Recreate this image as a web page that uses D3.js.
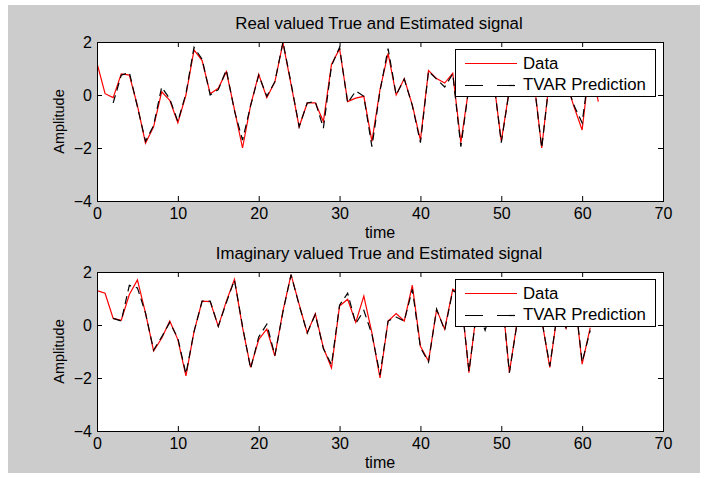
<!DOCTYPE html>
<html><head><meta charset="utf-8">
<script src="https://cdn.jsdelivr.net/npm/d3@7"></script>
<style>
html,body{margin:0;padding:0;background:#fff;}
text{font-family:"Liberation Sans",Arial,Helvetica,sans-serif;fill:#000;}
</style></head>
<body>
<svg id="chart" width="708" height="478"></svg>
<script>
// ---------------- data ----------------
const xTicks = [0, 10, 20, 30, 40, 50, 60, 70];
const yTicks = [-4, -2, 0, 2];
const titles = ["Real valued True and Estimated signal", "Imaginary valued True and Estimated signal"];
const xLabel = "time";
const yLabel = "Amplitude";
const legendLabels = ["Data", "TVAR Prediction"];

// real part: true data (t = 0..62)
const realData = [1.2, 0.05, -0.1, 0.8, 0.75, -0.4, -1.82, -1.2, 0.12, -0.2,
  -1.05, 0.0, 1.7, 1.3, 0.05, 0.25, 0.88, -0.55, -2.0, -0.38,
  0.78, -0.1, 0.5, 1.97, 0.4, -1.2, -0.3, -0.3, -1.0, 1.15,
  1.75, -0.25, -0.12, -0.05, -1.75, 0.2, 1.57, 0.0, 0.62, -0.38,
  -1.7, 0.92, 0.62, 0.45, 0.82, -1.8, 0.3, 0.9, 0.5, 0.7,
  -1.75, 0.2, 0.9, 0.4, 0.65, -2.0, 0.7, 0.3, 0.5, -0.45,
  -1.32, 1.3, -0.25];
// real part: TVAR prediction (t = 2..61)
const realPredStart = 2;
const realPred = [-0.3, 0.75, 0.85, -0.45, -1.75, -1.15, 0.3, -0.15,
  -1.0, 0.05, 1.8, 1.35, 0.0, 0.2, 0.95, -0.6, -1.7, -0.4,
  0.75, -0.05, 0.5, 2.0, 0.45, -1.2, -0.3, -0.25, -1.25, 1.1,
  1.8, -0.3, 0.15, -0.05, -1.95, 0.15, 1.75, 0.0, 0.6, -0.4,
  -1.8, 0.9, 0.6, 0.3, 0.8, -1.95, 0.3, 0.85, 0.5, 0.7,
  -1.8, 0.2, 0.85, 0.4, 0.6, -2.0, 0.7, 0.3, 0.5, -0.4,
  -1.05, 1.25];
// imaginary part: true data (t = 0..61)
const imagData = [1.3, 1.2, 0.25, 0.18, 1.15, 1.7, 0.45, -0.98, -0.5, 0.15,
  -0.55, -1.92, -0.25, 0.9, 0.88, -0.05, 0.9, 1.72, -0.1, -1.6,
  -0.55, -0.15, -1.17, 0.53, 1.9, 0.78, -0.3, 0.43, -0.86, -1.62,
  0.72, 0.97, 0.1, 1.09, -0.3, -2.0, 0.15, 0.43, 0.15, 1.5,
  -0.8, -1.36, 0.58, -0.16, 1.35, 1.18, -1.8, 0.68, 0.1, 0.8,
  1.4, -1.8, 0.2, 1.0, 0.6, 0.2, -1.6, 0.58, -0.12, 1.32,
  -1.48, -0.1];
// imaginary part: TVAR prediction (t = 2..61)
const imagPredStart = 2;
const imagPred = [0.25, 0.15, 1.5, 1.4, 0.45, -0.95, -0.45, 0.1,
  -0.5, -1.85, -0.25, 0.9, 0.9, -0.05, 0.85, 1.7, -0.05, -1.65,
  -0.45, 0.03, -1.15, 0.5, 1.9, 0.75, -0.3, 0.4, -0.9, -1.5,
  0.75, 1.2, 0.05, 0.55, -0.35, -1.88, 0.15, 0.3, 0.15, 1.35,
  -0.85, -1.4, 0.6, -0.2, 1.3, 1.1, -1.75, 0.6, -0.2, 0.8,
  1.35, -1.8, 0.15, 0.9, 0.6, 0.2, -1.55, 0.6, -0.1, 1.3,
  -1.4, -0.2];

// ---------------- drawing ----------------
const svg = d3.select("#chart");
svg.append("rect").attr("x", 8).attr("y", 5).attr("width", 692).attr("height", 468).attr("fill", "#cccccc");

const x = d3.scaleLinear().domain([0, 70]).range([97, 663]);

function panel(top, bottom, title, dataArr, predArr, predStart) {
  const y = d3.scaleLinear().domain([-4, 2]).range([bottom, top]);
  const g = svg.append("g");
  g.append("rect").attr("x", x(0)).attr("y", y(2)).attr("width", x(70) - x(0)).attr("height", y(-4) - y(2))
    .attr("fill", "#fff");

  const clipId = "clip" + top;
  svg.append("clipPath").attr("id", clipId).append("rect")
    .attr("x", x(0)).attr("y", y(2) - 1).attr("width", x(70) - x(0)).attr("height", y(-4) - y(2) + 2);

  const line = d3.line().x(d => x(d[0])).y(d => y(d[1]));
  const dpts = dataArr.map((v, i) => [i, v]);
  const ppts = predArr.map((v, i) => [i + predStart, v]);
  const lg = g.append("g").attr("clip-path", `url(#${clipId})`);
  lg.append("path").attr("d", line(dpts)).attr("fill", "none").attr("stroke", "#ff0000").attr("stroke-width", 1.2);
  lg.append("path").attr("d", line(ppts)).attr("fill", "none").attr("stroke", "#000").attr("stroke-width", 1.2)
    .attr("stroke-dasharray", "8,5");

  // axes
  const ax = g.append("g").attr("transform", `translate(0,${y(-4)})`)
    .call(d3.axisBottom(x).tickValues(xTicks).tickSize(-5).tickPadding(7).tickFormat(d3.format("d")));
  const axTop = g.append("g").attr("transform", `translate(0,${y(2)})`)
    .call(d3.axisTop(x).tickValues(xTicks).tickSize(-5).tickFormat(""));
  const ay = g.append("g").attr("transform", `translate(${x(0)},0)`)
    .call(d3.axisLeft(y).tickValues(yTicks).tickSize(-5).tickPadding(5).tickFormat(d3.format("d")));
  const ayR = g.append("g").attr("transform", `translate(${x(70)},0)`)
    .call(d3.axisRight(y).tickValues(yTicks).tickSize(-5).tickFormat(""));
  [ax, axTop, ay, ayR].forEach(a => {
    a.select(".domain").remove();
    a.selectAll("line").attr("stroke", "#000");
    a.selectAll("text").attr("font-size", 16).attr("font-family", '"Liberation Sans",Arial,sans-serif').attr("fill", "#000");
  });
  g.append("rect").attr("x", x(0) + 0.5).attr("y", y(2) + 0.5).attr("width", x(70) - x(0)).attr("height", y(-4) - y(2))
    .attr("fill", "none").attr("stroke", "#000").attr("stroke-width", 1);

  // titles
  g.append("text").attr("x", 379).attr("y", top - 13).attr("text-anchor", "middle").attr("font-size", 16.8).text(title);
  g.append("text").attr("x", 380).attr("y", bottom + 37).attr("text-anchor", "middle").attr("font-size", 16).text(xLabel);
  g.append("text").attr("transform", `translate(64,${(top + bottom) / 2}) rotate(-90)`).attr("text-anchor", "middle")
    .attr("font-size", 14.5).text(yLabel);

  // legend
  const lx = 455, ly = top + 7;
  g.append("rect").attr("x", lx + 0.5).attr("y", ly + 0.5).attr("width", 200).attr("height", 47)
    .attr("fill", "#fff").attr("stroke", "#000").attr("stroke-width", 1);
  g.append("line").attr("x1", lx + 10).attr("x2", lx + 62).attr("y1", ly + 14.5).attr("y2", ly + 14.5)
    .attr("stroke", "#ff0000").attr("stroke-width", 1.2);
  g.append("line").attr("x1", lx + 10).attr("x2", lx + 62).attr("y1", ly + 36.5).attr("y2", ly + 36.5)
    .attr("stroke", "#000").attr("stroke-width", 1.2).attr("stroke-dasharray", "18,14");
  g.append("text").attr("x", lx + 68).attr("y", ly + 19.5).attr("font-size", 16.8).text(legendLabels[0]);
  g.append("text").attr("x", lx + 68).attr("y", ly + 41).attr("font-size", 16.8).text(legendLabels[1]);
}

panel(42, 201, titles[0], realData, realPred, realPredStart);
panel(272, 431, titles[1], imagData, imagPred, imagPredStart);
</script>
</body></html>
